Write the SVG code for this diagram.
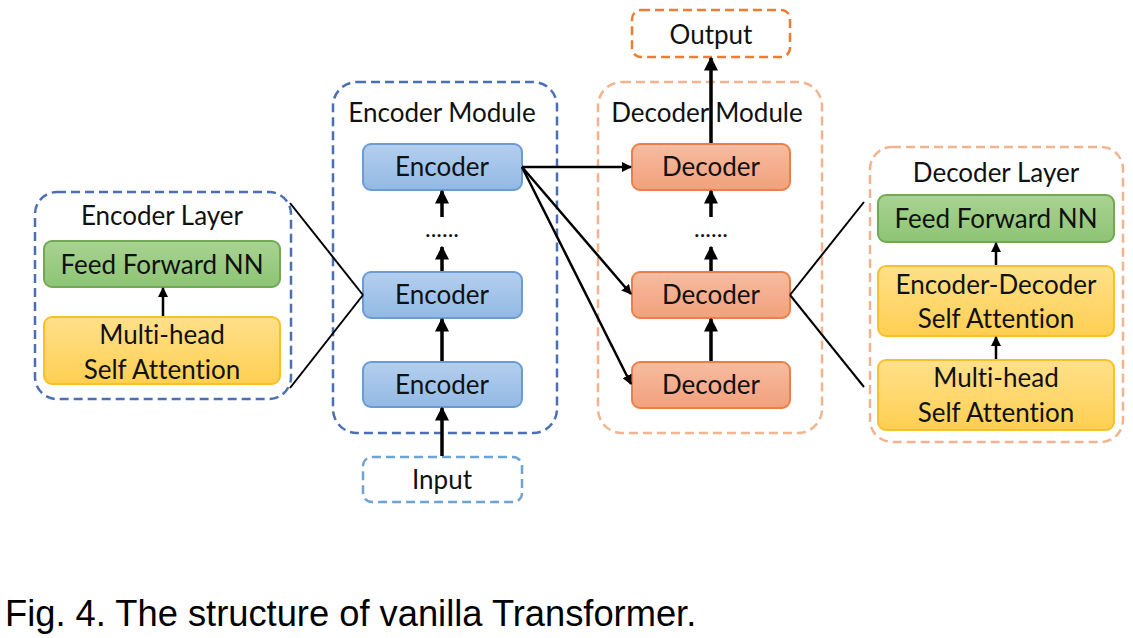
<svg xmlns="http://www.w3.org/2000/svg" width="1133" height="638" viewBox="0 0 1133 638">
<defs>
<linearGradient id="gBlue" x1="0" y1="0" x2="0" y2="1"><stop offset="0" stop-color="#B4CFEE"/><stop offset="1" stop-color="#92B9E4"/></linearGradient>
<linearGradient id="gOrange" x1="0" y1="0" x2="0" y2="1"><stop offset="0" stop-color="#F7BCA0"/><stop offset="1" stop-color="#F2A07C"/></linearGradient>
<linearGradient id="gGreen" x1="0" y1="0" x2="0" y2="1"><stop offset="0" stop-color="#A9D392"/><stop offset="1" stop-color="#8DC474"/></linearGradient>
<linearGradient id="gYellow" x1="0" y1="0" x2="0" y2="1"><stop offset="0" stop-color="#FFE08A"/><stop offset="1" stop-color="#FFCF52"/></linearGradient>
<marker id="ah" viewBox="0 0 10 10" refX="9" refY="5" markerWidth="4" markerHeight="4" markerUnits="strokeWidth" orient="auto"><path d="M0,0 L10,5 L0,10 z" fill="#000"/></marker>
</defs>
<style>
text{font-family:Lato,"Open Sans","Liberation Sans",sans-serif;font-size:26px;fill:#111;text-anchor:middle;font-variant-ligatures:none;font-feature-settings:"liga" 0}
.enc{fill:url(#gBlue);stroke:#6A9BD3;stroke-width:2}
.dec{fill:url(#gOrange);stroke:#EA8048;stroke-width:2}
.ff{fill:url(#gGreen);stroke:#72A854;stroke-width:2}
.att{fill:url(#gYellow);stroke:#F8C12A;stroke-width:2}
.dBlue{fill:none;stroke:#4A6FB5;stroke-width:2.5;stroke-dasharray:9,5}
.dOr{fill:none;stroke:#F2B48F;stroke-width:2.5;stroke-dasharray:9,5}
.dOut{fill:none;stroke:#ED7D31;stroke-width:2.5;stroke-dasharray:9,5}
.dIn{fill:none;stroke:#6EA3D4;stroke-width:2.5;stroke-dasharray:9,5}
.arr{stroke:#000;stroke-width:3.5;fill:none;marker-end:url(#ah)}
.arr2{stroke:#000;stroke-width:2.5;fill:none;marker-end:url(#ah)}
.ln{stroke:#000;stroke-width:2;fill:none}
.dots{font-size:24px}
.cap{font-family:"Liberation Sans",Arial,sans-serif;font-size:36.3px;text-anchor:start;fill:#000}
</style>

<g id="encoder-layer">
<rect class="dBlue" x="35" y="192" width="256" height="207" rx="22"/>
<text x="162" y="225">Encoder Layer</text>
</g>
<g id="enc-ffnn"><rect class="ff" x="44" y="241" width="236" height="46" rx="8"/><text x="162" y="274">Feed Forward NN</text></g>
<g id="enc-mhsa"><rect class="att" x="44" y="317" width="236" height="67" rx="8"/><text x="162" y="344">Multi-head</text><text x="162" y="379">Self Attention</text></g>

<g id="encoder-module">
<rect class="dBlue" x="333" y="82" width="224" height="351" rx="24"/>
<text x="442" y="122">Encoder Module</text>
</g>
<g id="enc-top"><rect class="enc" x="363" y="144" width="159" height="46" rx="8"/><text x="442" y="176">Encoder</text></g>
<g id="enc-mid"><rect class="enc" x="363" y="272" width="159" height="46" rx="8"/><text x="442" y="304">Encoder</text></g>
<g id="enc-bot"><rect class="enc" x="363" y="362" width="159" height="45" rx="8"/><text x="442" y="394">Encoder</text></g>
<g id="enc-dots"><text class="dots" x="442" y="237">......</text></g>
<g id="input"><rect class="dIn" x="363" y="457" width="159" height="45" rx="9"/><text x="442" y="489">Input</text></g>

<g id="decoder-module">
<rect class="dOr" x="598" y="82" width="224" height="351" rx="24"/>
<text x="707" y="122">Decoder Module</text>
</g>
<g id="dec-top"><rect class="dec" x="632" y="144" width="158" height="46" rx="8"/><text x="711" y="176">Decoder</text></g>
<g id="dec-mid"><rect class="dec" x="632" y="272" width="158" height="46" rx="8"/><text x="711" y="304">Decoder</text></g>
<g id="dec-bot"><rect class="dec" x="632" y="362" width="158" height="46" rx="8"/><text x="711" y="394">Decoder</text></g>
<g id="dec-dots"><text class="dots" x="711" y="237">......</text></g>
<g id="output"><rect class="dOut" x="632" y="10" width="158" height="47" rx="9"/><text x="711" y="44">Output</text></g>

<g id="decoder-layer">
<rect class="dOr" x="870" y="147" width="253" height="295" rx="22"/>
<text x="996" y="182">Decoder Layer</text>
</g>
<g id="dec-ffnn"><rect class="ff" x="878" y="195" width="236" height="47" rx="8"/><text x="996" y="228">Feed Forward NN</text></g>
<g id="dec-edsa"><rect class="att" x="878" y="266" width="236" height="70" rx="8"/><text x="996" y="294">Encoder-Decoder</text><text x="996" y="328">Self Attention</text></g>
<g id="dec-mhsa"><rect class="att" x="878" y="360" width="236" height="70" rx="8"/><text x="996" y="387">Multi-head</text><text x="996" y="422">Self Attention</text></g>

<g id="connectors">
<line class="arr2" x1="163" y1="316" x2="163" y2="288"/>
<line class="arr" x1="442" y1="456" x2="442" y2="408"/>
<line class="arr" x1="442" y1="361" x2="442" y2="319"/>
<line class="arr" x1="442" y1="271" x2="442" y2="247"/>
<line class="arr" x1="442" y1="217" x2="442" y2="191"/>
<line class="arr" x1="711" y1="361" x2="711" y2="319"/>
<line class="arr" x1="711" y1="271" x2="711" y2="247"/>
<line class="arr" x1="711" y1="217" x2="711" y2="191"/>
<line class="arr" x1="711" y1="143" x2="711" y2="58"/>
<line class="arr2" x1="522" y1="167" x2="631" y2="167"/>
<line class="arr2" x1="522" y1="167" x2="631" y2="294"/>
<line class="arr2" x1="522" y1="167" x2="631" y2="384"/>
<line class="ln" x1="290" y1="203" x2="363" y2="295"/>
<line class="ln" x1="290" y1="388" x2="363" y2="295"/>
<line class="ln" x1="790" y1="295" x2="864" y2="202"/>
<line class="ln" x1="790" y1="295" x2="864" y2="387"/>
<line class="arr2" x1="996" y1="265" x2="996" y2="243"/>
<line class="arr2" x1="996" y1="359" x2="996" y2="337"/>
</g>

<text class="cap" x="5" y="626">Fig. 4. The structure of vanilla Transformer.</text>
</svg>
